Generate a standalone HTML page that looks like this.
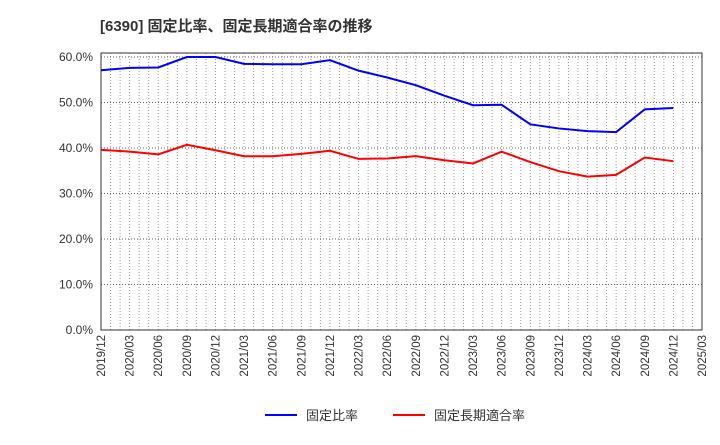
<!DOCTYPE html>
<html><head><meta charset="utf-8"><style>
body{margin:0;background:#fff;font-family:"Liberation Sans","Noto Sans CJK JP",sans-serif}
</style></head><body>
<svg id="c" width="720" height="440" xmlns="http://www.w3.org/2000/svg" font-family="Liberation Sans, Noto Sans CJK JP, sans-serif">
<text x="100" y="31" font-size="15" font-weight="bold" fill="#333">[6390]  固定比率、固定長期適合率の推移</text>
</svg>
<script>
const xLabels=["2019/12","2020/03","2020/06","2020/09","2020/12","2021/03","2021/06","2021/09","2021/12","2022/03","2022/06","2022/09","2022/12","2023/03","2023/06","2023/09","2023/12","2024/03","2024/06","2024/09","2024/12","2025/03"];
const yTicks=[0,10,20,30,40,50,60];
const fixedRatio=[57.1,57.6,57.7,60.0,60.0,58.5,58.4,58.4,59.3,57.0,55.5,53.8,51.5,49.4,49.5,45.2,44.3,43.7,43.5,48.5,48.8];
const fixedLongTermRatio=[39.6,39.2,38.6,40.7,39.5,38.2,38.2,38.7,39.4,37.6,37.7,38.2,37.3,36.6,39.2,36.9,34.9,33.7,34.1,37.9,37.1];
const L=101,R=702,T=53,B=330;
const sx=i=>L+i*(R-L)/(xLabels.length-1);
const sy=v=>B-v*(B-57)/60;
const svg=document.getElementById('c');
const NS='http://www.w3.org/2000/svg';
function mk(t,a){const e=document.createElementNS(NS,t);for(const k in a)e.setAttribute(k,a[k]);svg.appendChild(e);return e;}
// monthly vertical grid
for(let m=1;m<(xLabels.length-1)*3;m++){const x=L+m*(R-L)/((xLabels.length-1)*3);
const g=mk('line',{x1:x,x2:x,y1:T,y2:B,stroke:'#999','stroke-dasharray':'1,2','stroke-width':1});

}
yTicks.forEach(v=>{const y=sy(v);
if(v>0){const g=mk('line',{x1:L,x2:R,y1:y,y2:y,stroke:'#666','stroke-dasharray':'1,2'});

}
const t=mk('text',{x:L-8,y:y+4,'font-size':12,'text-anchor':'end',fill:'#333'});t.textContent=v.toFixed(1)+'%';

});
const fr=mk('rect',{x:L,y:T,width:R-L,height:B-T,fill:'none',stroke:'#333'});


xLabels.forEach((l,i)=>{const x=sx(i);const t=mk('text',{transform:`translate(${x+4},${B+5}) rotate(-90)`,'font-size':11.5,'text-anchor':'end',fill:'#333'});t.textContent=l;

});
function line(d,c,n){const p=mk('polyline',{points:d.map((v,i)=>sx(i)+','+sy(v)).join(' '),fill:'none',stroke:c,'stroke-width':2});

}
line(fixedRatio,'#0000ff','fixed-ratio-line');
line(fixedLongTermRatio,'#ff0000','fixed-long-term-ratio-line');
const lg=[['固定比率','#0000ff',265],['固定長期適合率','#ff0000',393]];
lg.forEach(([n,c,x])=>{const g=mk('g',{});


const l=document.createElementNS(NS,'line');l.setAttribute('x1',x);l.setAttribute('x2',x+32);l.setAttribute('y1',415);l.setAttribute('y2',415);l.setAttribute('stroke',c);l.setAttribute('stroke-width',2);g.appendChild(l);
const t=document.createElementNS(NS,'text');t.setAttribute('x',x+41);t.setAttribute('y',420);t.setAttribute('font-size',13);t.setAttribute('fill','#333');t.textContent=n;g.appendChild(t);});
</script>
</body></html>
